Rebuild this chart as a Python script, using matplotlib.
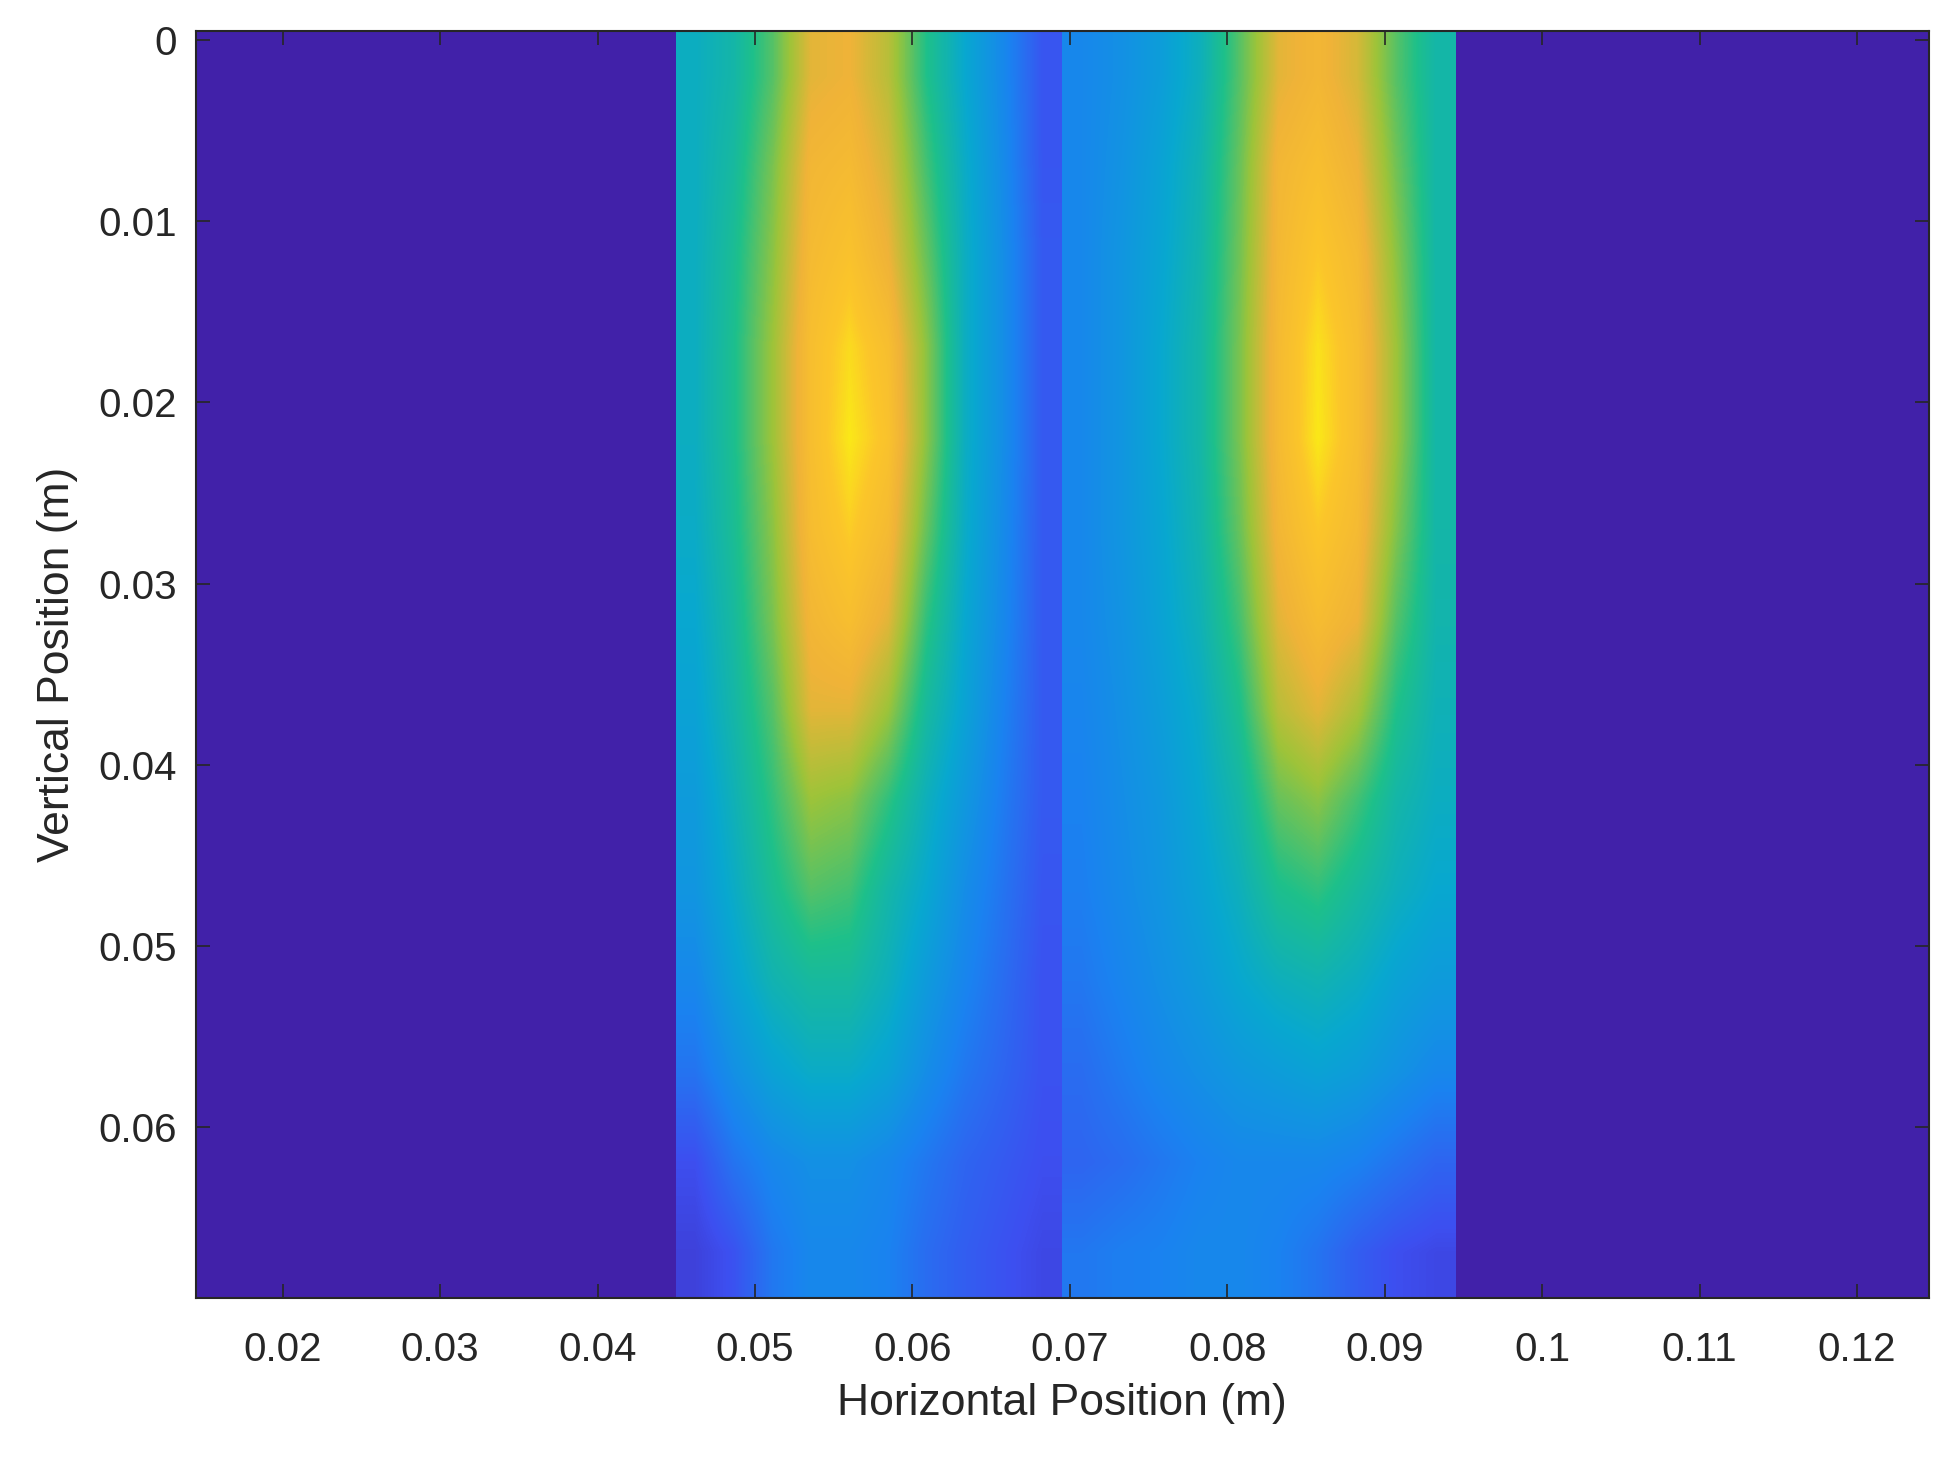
#!/usr/bin/env python3
"""Heat map of vertical vs horizontal position (parula-style colours)."""

import numpy as np
import matplotlib.pyplot as plt
from matplotlib.colors import LinearSegmentedColormap

# coarse field values (0 = background, 1 = peak)
left_half = [
    [0.45, 0.50, 0.62, 0.80, 0.82, 0.74, 0.56, 0.42, 0.30, 0.16],
    [0.45, 0.52, 0.66, 0.84, 0.86, 0.78, 0.60, 0.44, 0.31, 0.16],
    [0.45, 0.54, 0.68, 0.86, 0.90, 0.82, 0.64, 0.45, 0.32, 0.17],
    [0.45, 0.55, 0.70, 0.88, 0.95, 0.88, 0.68, 0.45, 0.32, 0.17],
    [0.45, 0.55, 0.70, 0.88, 0.97, 0.90, 0.68, 0.45, 0.32, 0.17],
    [0.44, 0.54, 0.68, 0.87, 0.93, 0.86, 0.64, 0.44, 0.31, 0.17],
    [0.42, 0.52, 0.66, 0.84, 0.88, 0.80, 0.58, 0.42, 0.30, 0.17],
    [0.40, 0.50, 0.62, 0.80, 0.80, 0.70, 0.52, 0.40, 0.28, 0.17],
    [0.37, 0.47, 0.58, 0.70, 0.68, 0.58, 0.46, 0.36, 0.26, 0.17],
    [0.35, 0.44, 0.54, 0.62, 0.60, 0.50, 0.42, 0.32, 0.24, 0.16],
    [0.30, 0.40, 0.48, 0.52, 0.52, 0.46, 0.37, 0.29, 0.22, 0.15],
    [0.24, 0.33, 0.40, 0.44, 0.44, 0.40, 0.32, 0.25, 0.20, 0.15],
    [0.14, 0.24, 0.30, 0.33, 0.33, 0.30, 0.25, 0.20, 0.17, 0.14],
    [0.10, 0.15, 0.25, 0.30, 0.30, 0.28, 0.22, 0.18, 0.15, 0.12],
]
right_half = [
    [0.30, 0.33, 0.38, 0.46, 0.62, 0.80, 0.84, 0.78, 0.62, 0.50],
    [0.30, 0.34, 0.40, 0.48, 0.64, 0.84, 0.88, 0.82, 0.65, 0.50],
    [0.30, 0.35, 0.41, 0.49, 0.65, 0.85, 0.92, 0.86, 0.68, 0.50],
    [0.30, 0.35, 0.42, 0.50, 0.66, 0.86, 0.96, 0.88, 0.70, 0.50],
    [0.30, 0.35, 0.42, 0.50, 0.66, 0.86, 0.97, 0.88, 0.70, 0.50],
    [0.30, 0.35, 0.41, 0.49, 0.64, 0.84, 0.92, 0.86, 0.67, 0.50],
    [0.30, 0.34, 0.40, 0.47, 0.60, 0.80, 0.87, 0.82, 0.62, 0.49],
    [0.29, 0.33, 0.38, 0.44, 0.55, 0.74, 0.80, 0.72, 0.56, 0.47],
    [0.28, 0.32, 0.36, 0.42, 0.50, 0.64, 0.68, 0.60, 0.50, 0.45],
    [0.27, 0.31, 0.35, 0.40, 0.46, 0.55, 0.58, 0.52, 0.46, 0.42],
    [0.25, 0.29, 0.33, 0.37, 0.42, 0.46, 0.48, 0.45, 0.40, 0.37],
    [0.22, 0.26, 0.30, 0.33, 0.36, 0.38, 0.40, 0.38, 0.34, 0.30],
    [0.20, 0.22, 0.25, 0.28, 0.30, 0.30, 0.30, 0.28, 0.24, 0.20],
    [0.25, 0.27, 0.28, 0.30, 0.30, 0.28, 0.24, 0.18, 0.14, 0.12],
]
left_extent_x = (0.045, 0.0695)
right_extent_x = (0.0695, 0.0945)
x_limits = (0.01449, 0.12455)
y_limits = (0.0694, -0.0005)
x_ticks = [0.02, 0.03, 0.04, 0.05, 0.06, 0.07, 0.08, 0.09, 0.1, 0.11, 0.12]
y_ticks = [0, 0.01, 0.02, 0.03, 0.04, 0.05, 0.06]

parula = LinearSegmentedColormap.from_list(
    "parula_like",
    [(0.00, "#4121a9"), (0.14, "#3d4ff0"), (0.28, "#1a83f0"), (0.42, "#08a8d0"),
     (0.56, "#1ec08a"), (0.70, "#9cc43a"), (0.82, "#f0b338"), (0.92, "#fcc62a"),
     (1.00, "#f9fb0e")],
)

plt.rcParams["font.family"] = ["Liberation Sans", "DejaVu Sans"]
fig = plt.figure(figsize=(19.6, 14.73), dpi=100)
ax = fig.add_axes([0.10, 0.119, 0.884, 0.86])
ax.set_facecolor(parula(0.0))

for data, ext in [(left_half, left_extent_x), (right_half, right_extent_x)]:
    ax.imshow(np.array(data), cmap=parula, vmin=0, vmax=1, aspect="auto",
              interpolation="bilinear", origin="upper",
              extent=(ext[0], ext[1], y_limits[0], y_limits[1]))

ax.set_xlim(*x_limits)
ax.set_ylim(*y_limits)
ax.set_xticks(x_ticks)
ax.set_xticklabels([f"{t:g}" for t in x_ticks])
ax.set_yticks(y_ticks)
ax.set_yticklabels([f"{t:g}" for t in y_ticks])
ax.tick_params(direction="in", length=10, width=1.2, top=True, right=True,
               labelsize=29, colors="#262626")
ax.tick_params(axis="x", pad=24)
ax.tick_params(axis="y", pad=14)
for s in ax.spines.values():
    s.set_linewidth(1.5)
    s.set_color("#262626")
ax.set_xlabel("Horizontal Position (m)", fontsize=32, color="#262626", labelpad=10)
ax.set_ylabel("Vertical Position (m)", fontsize=32, color="#262626", labelpad=14)

fig.savefig("out.png", dpi=100)
